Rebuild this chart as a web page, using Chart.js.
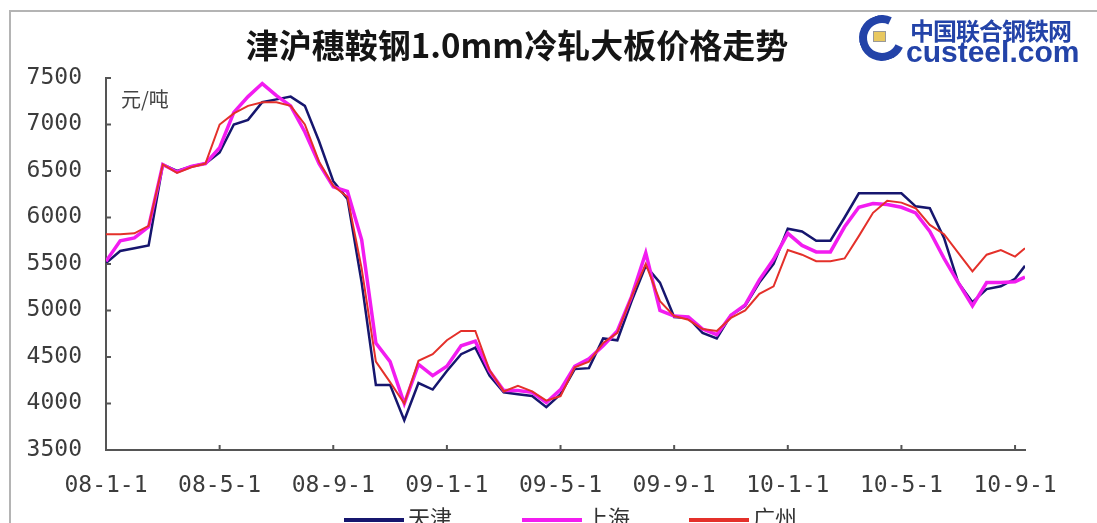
<!DOCTYPE html>
<html>
<head>
<meta charset="utf-8">
<script src="https://cdn.jsdelivr.net/npm/chart.js@4"></script>
<style>
html, body { margin: 0; padding: 0; background: #fff; overflow: hidden; }
#wrap { position: relative; width: 1097px; height: 523px; overflow: hidden; }
#frame { position: absolute; left: 9px; top: 10px; width: 1200px; height: 600px;
  border-left: 2px solid #b4b4b4; border-top: 2px solid #b4b4b4; }
#box { position: absolute; left: 0; top: 0; width: 1097px; height: 523px; }
#title { position: absolute; left: 0; top: 20px; width: 1034px; text-align: center;
  font: bold 33px "Noto Sans CJK SC"; color: #151515; }
#unit { position: absolute; left: 121px; top: 84px; font: 20px "Noto Sans CJK SC"; color: #444; }
#ring { position: absolute; left: 859px; top: 15px; width: 30px; height: 30px;
  border: 8px solid #2343a8; border-right-color: transparent; border-radius: 50%; transform: rotate(-20deg); }
#chip { position: absolute; left: 873px; top: 31px; width: 11px; height: 9px; background: #e8c860; border: 1px solid #999; }
#logo1 { position: absolute; left: 910px; top: 12px; font: bold 24px "Noto Sans CJK SC"; color: #2343a8; letter-spacing: -1px; }
#logo2 { position: absolute; left: 906px; top: 35px; font: bold 30px "Liberation Sans"; color: #2343a8; }
.lg { position: absolute; top: 500px; font: 22px "Noto Sans CJK SC"; color: #333; white-space: nowrap; }
.lg i { display: inline-block; width: 60px; height: 4px; vertical-align: middle; margin-right: 4px; }
</style>
</head>
<body>
<div id="wrap">
  <div id="frame"></div>
  <div id="box"><canvas id="priceChart"></canvas></div>
  <div id="title">津沪穗鞍钢1.0mm冷轧大板价格走势</div>
  <div id="unit">元/吨</div>
  <div id="ring"></div>
  <div id="chip"></div>
  <div id="logo1">中国联合钢铁网</div>
  <div id="logo2">custeel.com</div>
  <div id="legend"></div>
</div>
<script>
// months since 2008-01-01, half-month steps
let months = [0, 0.5, 1, 1.5, 2, 2.5, 3, 3.5, 4, 4.5, 5, 5.5, 6, 6.5, 7, 7.5, 8, 8.5, 9, 9.5,
  10, 10.5, 11, 11.5, 12, 12.5, 13, 13.5, 14, 14.5, 15, 15.5, 16, 16.5, 17, 17.5, 18, 18.5, 19, 19.5,
  20, 20.5, 21, 21.5, 22, 22.5, 23, 23.5, 24, 24.5, 25, 25.5, 26, 26.5, 27, 27.5, 28, 28.5, 29, 29.5,
  30, 30.5, 31, 31.5, 32, 32.35];

let tianjin = [5510, 5640, 5670, 5700, 6570, 6500, 6550, 6580, 6700, 7000, 7050, 7240, 7270, 7300, 7200, 6820, 6390, 6200, 5300, 4200,
  4200, 3820, 4220, 4150, 4350, 4530, 4600, 4300, 4120, 4100, 4080, 3960, 4100, 4370, 4380, 4700, 4680, 5100, 5480, 5300,
  4930, 4920, 4760, 4700, 4950, 5050, 5300, 5500, 5880, 5850, 5750, 5750, 6000, 6260, 6260, 6260, 6260, 6120, 6100, 5780,
  5300, 5090, 5230, 5260, 5340, 5480];

let shanghai = [5530, 5750, 5780, 5900, 6570, 6490, 6550, 6580, 6750, 7130, 7300, 7440, 7310, 7200, 6920, 6580, 6330, 6280, 5760, 4650,
  4450, 4000, 4420, 4300, 4400, 4620, 4670, 4350, 4140, 4140, 4120, 4010, 4150, 4400, 4480, 4620, 4780, 5150, 5620, 5000,
  4940, 4930, 4800, 4740, 4950, 5060, 5330, 5550, 5830, 5700, 5630, 5630, 5900, 6110, 6150, 6140, 6110, 6050, 5850, 5560,
  5300, 5050, 5300, 5300, 5310, 5360];

let guangzhou = [5820, 5820, 5830, 5910, 6570, 6480, 6540, 6580, 7000, 7120, 7200, 7240, 7240, 7200, 7000, 6600, 6340, 6220, 5450, 4450,
  4230, 4000, 4460, 4530, 4680, 4780, 4780, 4360, 4130, 4190, 4130, 4030, 4080, 4390, 4450, 4650, 4760, 5150, 5500, 5100,
  4940, 4900, 4800, 4780, 4920, 5000, 5180, 5260, 5650, 5600, 5530, 5530, 5560, 5800, 6050, 6180, 6160, 6100, 5920, 5820,
  5620, 5420, 5600, 5650, 5580, 5670];

let xTicks = [0, 4, 8, 12, 16, 20, 24, 28, 32];
let yTicks = [3500, 4000, 4500, 5000, 5500, 6000, 6500, 7000, 7500];

let cities = ['天津', '上海', '广州'];
let colors = ['#16166e', '#f21cf0', '#e4302a'];

function pts(vals) {
  return vals.map((v, i) => ({ x: months[i], y: v }));
}

function tickLabel(v) {
  let yr = 8 + Math.floor(v / 12);
  return (yr < 10 ? '0' : '') + yr + '-' + (v % 12 + 1) + '-1';
}

// legend, spaced like the original
let legendLeft = [344, 522, 689];
document.getElementById('legend').innerHTML = cities.map((c, i) =>
  '<div class="lg" style="left:' + legendLeft[i] + 'px"><i style="background:' + colors[i] + '"></i>' + c + '</div>'
).join('');

// short ticks drawn inside the plot, like the original
let innerTicks = {
  id: 'innerTicks',
  afterDraw(chart) {
    let ctx = chart.ctx, x = chart.scales.x, y = chart.scales.y, a = chart.chartArea;
    ctx.save();
    ctx.strokeStyle = '#555';
    ctx.lineWidth = 2;
    y.ticks.forEach(t => {
      let py = y.getPixelForValue(t.value);
      ctx.beginPath(); ctx.moveTo(a.left, py); ctx.lineTo(a.left + 5, py); ctx.stroke();
    });
    x.ticks.forEach(t => {
      if (t.value === 0) return;
      let px = x.getPixelForValue(t.value);
      ctx.beginPath(); ctx.moveTo(px, a.bottom); ctx.lineTo(px, a.bottom - 5); ctx.stroke();
    });
    ctx.restore();
  }
};

let priceChart = new Chart(document.getElementById('priceChart').getContext('2d'), {
  type: 'line',
  data: {
    datasets: [
      { label: cities[0], data: pts(tianjin), borderColor: colors[0], borderWidth: 2.5, order: 2 },
      { label: cities[1], data: pts(shanghai), borderColor: colors[1], borderWidth: 3.5, order: 1 },
      { label: cities[2], data: pts(guangzhou), borderColor: colors[2], borderWidth: 2, order: 0 }
    ]
  },
  options: {
    responsive: true,
    maintainAspectRatio: false,
    animation: false,
    layout: { padding: { left: 0, right: 72, top: 78, bottom: 23 } },
    elements: { point: { radius: 0 }, line: { tension: 0 } },
    scales: {
      x: {
        type: 'linear',
        min: 0,
        max: 32.35,
        afterBuildTicks: s => { s.ticks = xTicks.map(v => ({ value: v })); },
        afterFit: s => { s.height = 50; },
        ticks: {
          autoSkip: false,
          maxRotation: 0,
          padding: 22,
          color: '#3c3c3c',
          font: { family: 'DejaVu Sans Mono', size: 23 },
          callback: v => tickLabel(v)
        },
        grid: { display: false, drawTicks: false },
        border: { display: true, color: '#555', width: 2 }
      },
      y: {
        min: 3500,
        max: 7500,
        afterBuildTicks: s => { s.ticks = yTicks.map(v => ({ value: v })); },
        afterFit: s => { s.width = 106; },
        ticks: {
          padding: 24,
          color: '#3c3c3c',
          font: { family: 'DejaVu Sans Mono', size: 23 },
          callback: v => String(v)
        },
        grid: { display: false, drawTicks: false },
        border: { display: true, color: '#555', width: 2 }
      }
    },
    plugins: {
      title: { display: false },
      tooltip: { enabled: false },
      legend: { display: false }
    }
  },
  plugins: [innerTicks]
});
</script>
</body>
</html>
